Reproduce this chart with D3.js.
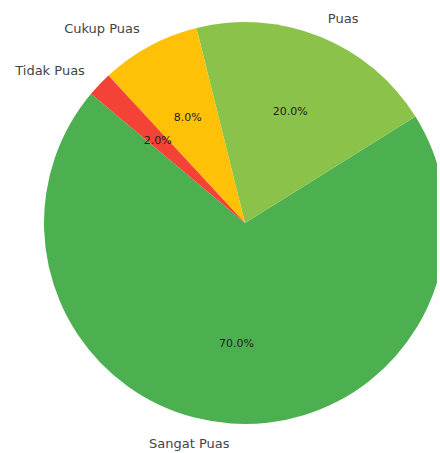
<!DOCTYPE html>
<html>
<head>
<meta charset="utf-8">
<script src="https://cdn.jsdelivr.net/npm/d3@7"></script>
<style>
  body { margin: 0; background: #fff; }
  text { font-family: "DejaVu Sans", sans-serif; }
</style>
</head>
<body>
<div id="chart"></div>
<script>
const categories = ["Sangat Puas", "Puas", "Cukup Puas", "Tidak Puas"];
const values = [70, 20, 8, 2];
const colors = ["#4CAF50", "#8BC34A", "#FFC107", "#F44336"];

const WIDTH = 440, HEIGHT = 453;
const CX = 245, CY = 223;
const R = 201;

const svg = d3.select("#chart").append("svg")
  .attr("width", WIDTH)
  .attr("height", HEIGHT);

// the reference image is cut off just before its right border
svg.append("clipPath")
  .attr("id", "clip")
  .append("rect")
  .attr("x", 0)
  .attr("y", 0)
  .attr("width", 437)
  .attr("height", HEIGHT);

const data = categories.map((c, i) => ({ name: c, value: values[i], color: colors[i] }));

// matplotlib style: start at 140 deg, counterclockwise
const start = (90 - 140) * Math.PI / 180;
const pie = d3.pie()
  .value(d => d.value)
  .sort(null)
  .startAngle(start)
  .endAngle(start - 2 * Math.PI);

const arcs = pie(data);
const arc = d3.arc().innerRadius(0).outerRadius(R);

const pieGroup = svg.append("g")
  .attr("clip-path", "url(#clip)")
  .append("g")
  .attr("transform", `translate(${CX},${CY})`);

pieGroup.selectAll("path")
  .data(arcs)
  .enter()
  .append("path")
  .attr("d", arc)
  .attr("fill", d => d.data.color);

function pos(d, k) {
  const a = (d.startAngle + d.endAngle) / 2;
  return [CX + k * R * Math.sin(a), CY - k * R * Math.cos(a)];
}

svg.selectAll(".label")
  .data(arcs)
  .enter()
  .append("text")
  .attr("class", "label")
  .attr("x", d => pos(d, 1.1)[0])
  .attr("y", d => pos(d, 1.1)[1])
  .attr("dy", "0.35em")
  .attr("text-anchor", d => pos(d, 1.1)[0] > CX ? "start" : "end")
  .attr("font-size", 13)
  .attr("fill", "#444")
  .text(d => d.data.name);

svg.selectAll(".pct")
  .data(arcs)
  .enter()
  .append("text")
  .attr("class", "pct")
  .attr("x", d => pos(d, 0.6)[0])
  .attr("y", d => pos(d, 0.6)[1])
  .attr("dy", "0.35em")
  .attr("text-anchor", "middle")
  .attr("font-size", 11)
  .attr("fill", "#222")
  .text(d => d.data.value.toFixed(1) + "%");
</script>
</body>
</html>
